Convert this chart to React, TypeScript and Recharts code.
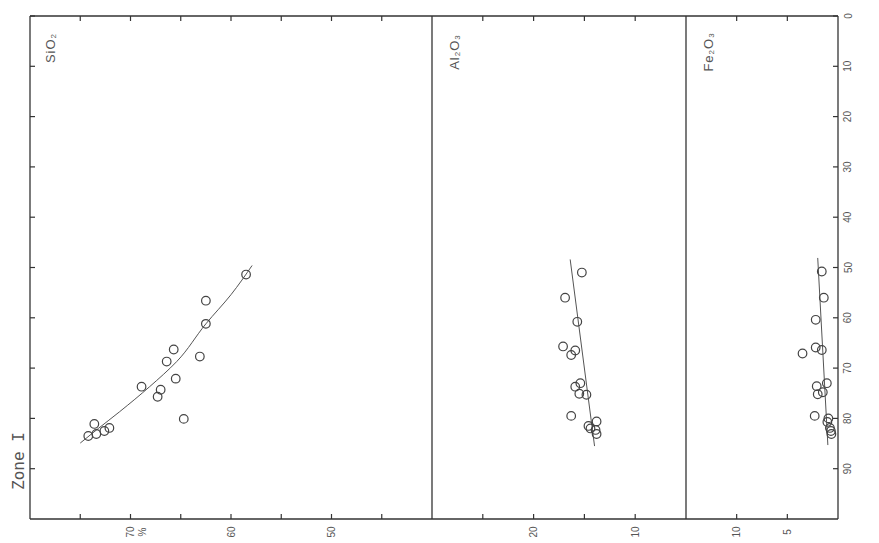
import { ScatterChart, Scatter, XAxis, YAxis } from "recharts";

// depth axis (vertical, 0 at top)
const depthTicks = [0, 10, 20, 30, 40, 50, 60, 70, 80, 90];

const sio2Ticks = [45, 50, 55, 60, 65, 70, 75];
const sio2Labels = [50, 60, 70];
const al2o3Ticks = [10, 15, 20, 25];
const al2o3Labels = [10, 20];
const fe2o3Ticks = [5, 10];
const fe2o3Labels = [5, 10];

// v = percent, d = depth
const sio2Points = [
  { v: 58.5, d: 51.4 },
  { v: 62.5, d: 56.6 },
  { v: 62.5, d: 61.2 },
  { v: 65.7, d: 66.3 },
  { v: 66.4, d: 68.7 },
  { v: 63.1, d: 67.7 },
  { v: 65.5, d: 72.1 },
  { v: 68.9, d: 73.7 },
  { v: 67.0, d: 74.3 },
  { v: 67.3, d: 75.7 },
  { v: 64.7, d: 80.1 },
  { v: 73.6, d: 81.1 },
  { v: 72.1, d: 81.9 },
  { v: 72.6, d: 82.5 },
  { v: 73.4, d: 83.1 },
  { v: 74.2, d: 83.5 },
];
const sio2Curve = [
  { v: 57.9, d: 49.6 },
  { v: 60.0, d: 55.4 },
  { v: 62.5, d: 61.2 },
  { v: 65.4, d: 68.7 },
  { v: 68.1, d: 73.7 },
  { v: 71.1, d: 78.7 },
  { v: 73.2, d: 82.0 },
  { v: 75.0, d: 84.9 },
];

const al2o3Points = [
  { v: 15.25, d: 51.0 },
  { v: 16.9, d: 56.0 },
  { v: 15.7, d: 60.8 },
  { v: 17.1, d: 65.7 },
  { v: 15.9, d: 66.5 },
  { v: 16.3, d: 67.4 },
  { v: 15.4, d: 73.0 },
  { v: 15.9, d: 73.7 },
  { v: 15.5, d: 75.1 },
  { v: 14.8, d: 75.3 },
  { v: 16.3, d: 79.5 },
  { v: 13.8, d: 80.6 },
  { v: 14.6, d: 81.5 },
  { v: 14.4, d: 82.0 },
  { v: 13.9, d: 82.3 },
  { v: 13.8, d: 83.1 },
];
const al2o3Line = [
  { v: 16.4, d: 48.4 },
  { v: 14.0, d: 85.5 },
];

const fe2o3Points = [
  { v: 1.6, d: 50.8 },
  { v: 1.4, d: 56.0 },
  { v: 2.2, d: 60.4 },
  { v: 3.5, d: 67.1 },
  { v: 2.2, d: 65.9 },
  { v: 1.6, d: 66.4 },
  { v: 1.1, d: 73.0 },
  { v: 2.1, d: 73.6 },
  { v: 2.0, d: 75.2 },
  { v: 1.5, d: 74.8 },
  { v: 2.3, d: 79.5 },
  { v: 0.95, d: 80.0 },
  { v: 1.05, d: 80.7 },
  { v: 0.8, d: 81.9 },
  { v: 0.7, d: 82.5 },
  { v: 0.65, d: 83.1 },
];
const fe2o3Line = [
  { v: 2.0, d: 48.1 },
  { v: 1.0, d: 85.3 },
];

const INK = "#333";
const TEXT = "#555";
const FONT = "'Liberation Sans', Arial, sans-serif";
const H = 543;
const TOP = 16;

const ring = (p: any) => (
  <circle cx={p.cx} cy={p.cy} r={4.3} fill="none" stroke="#444" strokeWidth={1.2} />
);
const noDot = () => <g />;
const noTick = () => <g />;

// bottom label (rotated) plus the matching inward tick on the top frame
function bottomTick(show: number[]) {
  return (p: any) => {
    const y = 532;
    return (
      <g>
        <line x1={p.x} x2={p.x} y1={TOP} y2={TOP + 5} stroke={INK} strokeWidth={1.2} />
        {show.includes(p.payload.value) && (
          <text
            x={p.x}
            y={y}
            transform={`rotate(-90 ${p.x} ${y})`}
            textAnchor="middle"
            dominantBaseline="central"
            fontSize={10}
            fill={TEXT}
            fontFamily={FONT}
          >
            {p.payload.value}
          </text>
        )}
      </g>
    );
  };
}

function rightTick(x: number) {
  return (p: any) => (
    <text
      x={x}
      y={p.y}
      transform={`rotate(-90 ${x} ${p.y})`}
      textAnchor="middle"
      dominantBaseline="central"
      fontSize={10}
      fill={TEXT}
      fontFamily={FONT}
    >
      {p.payload.value}
    </text>
  );
}

interface PanelProps {
  left: number;
  width: number;
  margin: { top: number; right: number; bottom: number; left: number };
  domain: [number, number];
  ticks: number[];
  labels: number[];
  points: { v: number; d: number }[];
  curve: { v: number; d: number }[];
  leftTicks?: boolean;
  rightAxis?: boolean;
}

function Panel(props: PanelProps) {
  const { left, width, margin, domain, ticks, labels, points, curve, leftTicks, rightAxis } = props;
  const axisLine = { stroke: INK, strokeWidth: 1.3 };
  const tickLine = { stroke: INK, strokeWidth: 1.2 };
  return (
    <div style={{ position: "absolute", left, top: 0 }}>
      <ScatterChart width={width} height={H} margin={margin}>
        <XAxis
          type="number"
          dataKey="v"
          domain={domain}
          reversed
          mirror
          allowDataOverflow
          ticks={ticks}
          interval={0}
          tickSize={5}
          axisLine={axisLine}
          tickLine={tickLine}
          tick={bottomTick(labels)}
        />
        <XAxis
          xAxisId="top"
          orientation="top"
          type="number"
          dataKey="v"
          domain={domain}
          reversed
          mirror
          allowDataOverflow
          ticks={ticks}
          interval={0}
          axisLine={axisLine}
          tickLine={false}
          tick={noTick}
        />
        <YAxis
          type="number"
          dataKey="d"
          domain={[0, 100]}
          reversed
          mirror
          allowDataOverflow
          ticks={depthTicks}
          interval={0}
          tickSize={5}
          axisLine={axisLine}
          tickLine={leftTicks ? tickLine : false}
          tick={noTick}
        />
        {rightAxis && (
          <YAxis
            yAxisId="r"
            orientation="right"
            type="number"
            dataKey="d"
            domain={[0, 100]}
            reversed
            mirror
            allowDataOverflow
            ticks={depthTicks}
            interval={0}
            tickSize={5}
            axisLine={axisLine}
            tickLine={tickLine}
            tick={rightTick(width - margin.right + 10)}
          />
        )}
        <Scatter
          data={curve}
          line={{ stroke: "#555", strokeWidth: 1 }}
          lineType="joint"
          lineJointType="monotoneY"
          shape={noDot}
          isAnimationActive={false}
        />
        <Scatter data={points} shape={ring} isAnimationActive={false} />
      </ScatterChart>
    </div>
  );
}

export default function App() {
  return (
    <div
      style={{
        position: "absolute",
        left: 0,
        top: 0,
        width: 879,
        height: H,
        background: "#fff",
        overflow: "hidden",
      }}
    >
      <Panel
        left={0}
        width={442}
        margin={{ top: TOP, right: 10, bottom: 24, left: 30 }}
        domain={[40, 80]}
        ticks={sio2Ticks}
        labels={sio2Labels}
        points={sio2Points}
        curve={sio2Curve}
        leftTicks
      />
      <Panel
        left={422}
        width={274}
        margin={{ top: TOP, right: 10, bottom: 24, left: 10 }}
        domain={[5, 30]}
        ticks={al2o3Ticks}
        labels={al2o3Labels}
        points={al2o3Points}
        curve={al2o3Line}
      />
      <Panel
        left={676}
        width={203}
        margin={{ top: TOP, right: 41, bottom: 24, left: 10 }}
        domain={[0, 15]}
        ticks={fe2o3Ticks}
        labels={fe2o3Labels}
        points={fe2o3Points}
        curve={fe2o3Line}
        rightAxis
      />
      <svg
        width={879}
        height={H}
        style={{ position: "absolute", left: 0, top: 0, pointerEvents: "none" }}
      >
        <g fill={TEXT} fontFamily={FONT}>
          <text x={50} y={48} transform="rotate(-90 50 48)" textAnchor="middle" dominantBaseline="central" fontSize={13} letterSpacing={1}>
            SiO<tspan fontSize={8} dy={3}>2</tspan>
          </text>
          <text x={454} y={52} transform="rotate(-90 454 52)" textAnchor="middle" dominantBaseline="central" fontSize={13} letterSpacing={1}>
            Al<tspan fontSize={8} dy={3}>2</tspan>
            <tspan dy={-3}>O</tspan>
            <tspan fontSize={8} dy={3}>3</tspan>
          </text>
          <text x={708} y={52} transform="rotate(-90 708 52)" textAnchor="middle" dominantBaseline="central" fontSize={13} letterSpacing={1}>
            Fe<tspan fontSize={8} dy={3}>2</tspan>
            <tspan dy={-3}>O</tspan>
            <tspan fontSize={8} dy={3}>3</tspan>
          </text>
          <text x={142} y={532} transform="rotate(-90 142 532)" textAnchor="middle" dominantBaseline="central" fontSize={10}>
            %
          </text>
          <text
            x={18}
            y={461}
            transform="rotate(-90 18 461)"
            textAnchor="middle"
            dominantBaseline="central"
            fontSize={16}
            fontFamily="'DejaVu Sans Mono', monospace"
          >
            Zone I
          </text>
        </g>
      </svg>
    </div>
  );
}
